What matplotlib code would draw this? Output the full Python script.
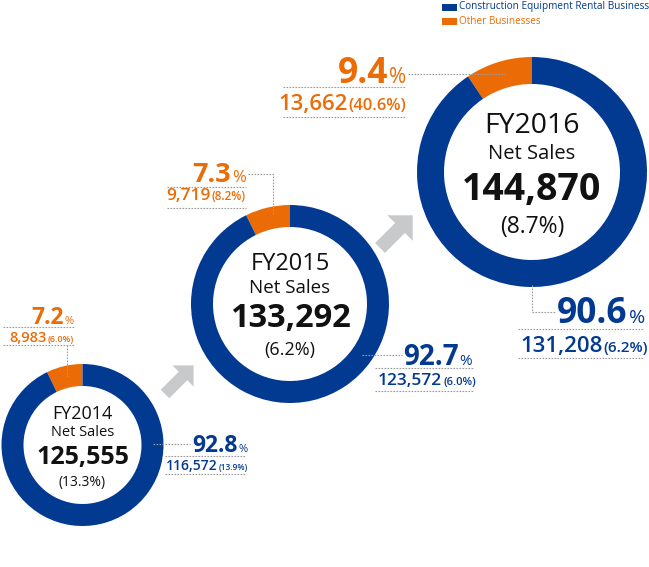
import matplotlib
matplotlib.use("Agg")
import matplotlib.pyplot as plt
from matplotlib.patches import Wedge, FancyArrow, Rectangle

plt.rcParams['font.family'] = ['Open Sans', 'DejaVu Sans']

# data
years = ['FY2014', 'FY2015', 'FY2016']
net_sales = [125555, 133292, 144870]
net_growth = [13.3, 6.2, 8.7]
rental_share = [92.8, 92.7, 90.6]
rental_sales = [116572, 123572, 131208]
rental_growth = [13.9, 6.0, 6.2]
other_share = [7.2, 7.3, 9.4]
other_sales = [8983, 9719, 13662]
other_growth = [6.0, 8.2, 40.6]
legend_labels = ['Construction Equipment Rental Business', 'Other Businesses']

BLUE = '#023a92'
ORANGE = '#eb6c07'
GRAY = '#c8c9ca'
DASH = '#9a9a9a'

# layout (pixel coords, y down)
centers = [(82.5, 445), (290, 304), (532, 172)]
r_out = [81, 99, 115]
ring = [22, 22, 27]
center_sizes = [(13, 10.5, 18, 10), (17, 13.5, 23.5, 13), (20.5, 14.5, 27, 16.5)]
center_base = [(419, 436, 464, 486), (270, 293, 327, 355), (133, 159, 200, 233)]

fig = plt.figure(figsize=(6.49, 5.67), dpi=100)
ax = fig.add_axes([0, 0, 1, 1])
ax.set_xlim(0, 649)
ax.set_ylim(567, 0)
ax.axis('off')
renderer = fig.canvas.get_renderer()


def two_part(x, y, a, b, sa, sb, color, align='left', wa='bold', wb='normal'):
    t1 = ax.text(x, y, a, fontsize=sa, fontweight=wa, color=color, va='baseline', ha='left')
    t2 = ax.text(x, y, b, fontsize=sb, fontweight=wb, color=color, va='baseline', ha='left')
    w1 = t1.get_window_extent(renderer).width
    w2 = t2.get_window_extent(renderer).width
    if align == 'left':
        t2.set_x(x + w1 + 1)
    else:
        t1.set_x(x - w1 - w2 - 1)
        t2.set_x(x - w2)


def dash(xs, ys):
    ax.plot(xs, ys, color=DASH, lw=0.8, ls=(0, (1.5, 1.2)))


for i in range(3):
    cx, cy = centers[i]
    p = other_share[i] / 100 * 360
    ax.add_patch(Wedge((cx, cy), r_out[i], -90 - p, -90, width=ring[i], color=ORANGE, lw=0))
    ax.add_patch(Wedge((cx, cy), r_out[i], -90, 270 - p, width=ring[i], color=BLUE, lw=0))
    s = center_sizes[i]
    b = center_base[i]
    ax.text(cx, b[0], years[i], fontsize=s[0], ha='center', va='baseline', color='#111111')
    ax.text(cx, b[1], 'Net Sales', fontsize=s[1], ha='center', va='baseline', color='#111111')
    ax.text(cx, b[2], f'{net_sales[i]:,}', fontsize=s[2], fontweight='bold', ha='center',
            va='baseline', color='#111111')
    ax.text(cx, b[3], f'({net_growth[i]}%)', fontsize=s[3], ha='center', va='baseline',
            color='#111111')

# orange labels (right aligned)
o_x = [74, 246, 406]
o_left = [3, 167, 283]
o_base = [(324, 342), (182, 200), (83, 110)]
o_lines = [(327, 345), (187, 208), (87, 117)]
o_sizes = [(16.5, 8, 10.5, 6.5), (19.5, 12, 12.5, 8.5), (25.5, 15, 16, 12)]
for i in range(3):
    s = o_sizes[i]
    two_part(o_x[i], o_base[i][0], f'{other_share[i]}', '%', s[0], s[1], ORANGE, 'right')
    two_part(o_x[i], o_base[i][1], f'{other_sales[i]:,}', f'({other_growth[i]}%)', s[2], s[3],
             ORANGE, 'right', wa='semibold', wb='semibold')
    for yl in o_lines[i]:
        dash([o_left[i], o_x[i]], [yl, yl])
dash([67, 67], [345, 377])
dash([248, 273, 273], [174, 174, 215])
dash([408, 505], [74, 74])

# blue labels (left aligned)
b_x = [192, 403, 557]
b_x2 = [166, 378, 520]
b_left = [165, 375, 518]
b_right = [245, 473, 643]
b_base = [(452, 470), (365, 385), (323, 352)]
b_lines = [(456, 474), (368, 391), (329, 358)]
b_sizes = [(16.5, 8, 10, 6), (20, 11, 12.5, 8), (25.5, 14, 16, 11)]
for i in range(3):
    s = b_sizes[i]
    two_part(b_x[i], b_base[i][0], f'{rental_share[i]}', '%', s[0], s[1], BLUE, 'left')
    two_part(b_x2[i], b_base[i][1], f'{rental_sales[i]:,}', f'({rental_growth[i]}%)', s[2], s[3],
             BLUE, 'left', wa='semibold', wb='semibold')
    for yl in b_lines[i]:
        dash([b_left[i], b_right[i]], [yl, yl])
dash([153, 190], [444, 444])
dash([362, 402], [355, 355])
dash([532, 532, 555], [285, 312, 312])

# arrows between years
ax.add_patch(FancyArrow(165, 394, 18, -18, width=12, head_width=30, head_length=15,
                        length_includes_head=False, color=GRAY, lw=0))
ax.add_patch(FancyArrow(380, 248, 20, -20, width=14, head_width=36, head_length=18,
                        length_includes_head=False, color=GRAY, lw=0))

# legend
for k, (lab, col) in enumerate(zip(legend_labels, [BLUE, ORANGE])):
    y = 7 + k * 14
    ax.add_patch(Rectangle((442, y - 3.5), 15, 7, color=col, lw=0))
    ax.text(459, y, lab, fontsize=7.2, color=col, va='center', ha='left')

fig.savefig('out.png', dpi=100)
